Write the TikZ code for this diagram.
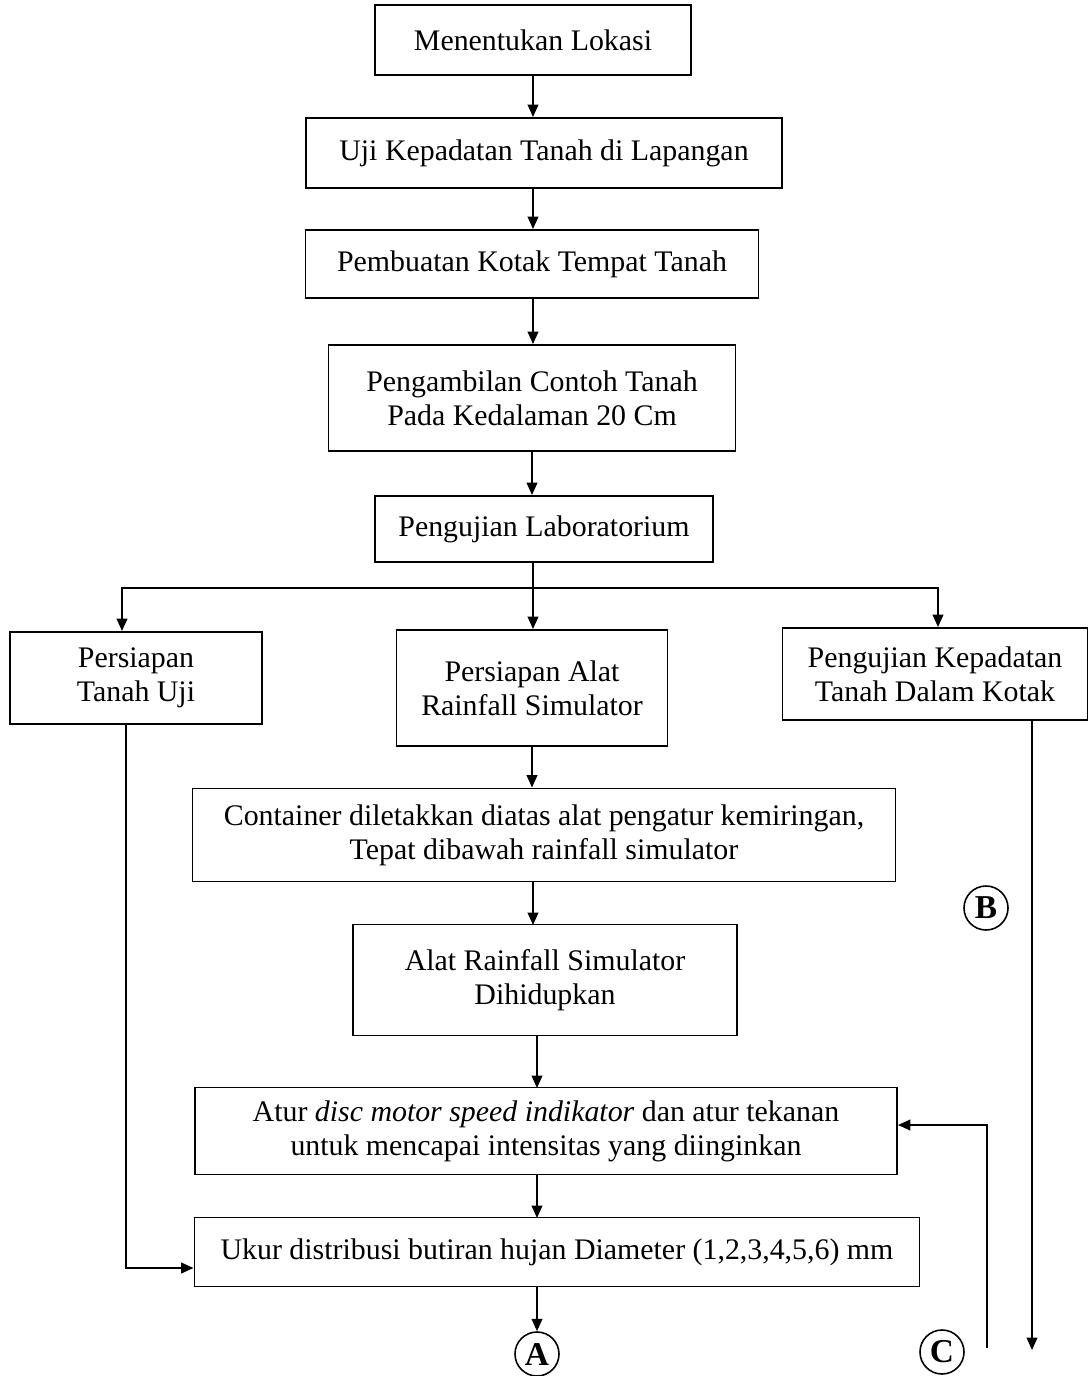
\documentclass[tikz,border=0pt]{standalone}
\usepackage{fontspec}
\setmainfont{Liberation Serif}
\usepackage{tikz}
\usetikzlibrary{arrows.meta}

\newlength\pxu
\setlength\pxu{0.02cm}

\begin{document}
\begin{tikzpicture}[x = {(0.02cm,0cm)},
                    y = {(0cm,-0.02cm)},
                    line width = 1.1pt,
                    font = \fontsize{17pt}{19.4pt}\selectfont]

  \useasboundingbox (0,0) rectangle (1089,1376);

  % STYLES
  \tikzstyle{boxstyle} = [draw, inner sep=0pt, align=center]
  \tikzstyle{markstyle} = [draw, circle, minimum size=44\pxu, inner sep=0pt, line width=0.9pt, font=\fontsize{19pt}{20pt}\selectfont\bfseries]
  \tikzstyle{arrowstyle} = [-{Triangle[length=7pt,width=6pt]}]

  % BOXES
  \node[boxstyle, minimum width=316\pxu, minimum height=70\pxu] (lokasi) at (533, 40) {Menentukan Lokasi};
  \node[boxstyle, minimum width=476\pxu, minimum height=70\pxu] (ujilap) at (544, 153) {Uji Kepadatan Tanah di Lapangan};
  \node[boxstyle, minimum width=453\pxu, minimum height=68\pxu] (kotak) at (532, 264) {Pembuatan Kotak Tempat Tanah};
  \node[boxstyle, minimum width=407\pxu, minimum height=106\pxu] (contoh) at (532, 398) {Pengambilan Contoh Tanah\\Pada Kedalaman 20 Cm};
  \node[boxstyle, minimum width=338\pxu, minimum height=66\pxu] (lab) at (544, 529) {Pengujian Laboratorium};

  \node[boxstyle, minimum width=252\pxu, minimum height=92\pxu] (tanahuji) at (136, 678) {Persiapan\\Tanah Uji};
  \node[boxstyle, minimum width=271\pxu, minimum height=116\pxu] (alat) at (532, 688) {Persiapan Alat\\Rainfall Simulator};
  \node[boxstyle, minimum width=305\pxu, minimum height=92\pxu] (dalamkotak) at (935, 674) {Pengujian Kepadatan\\Tanah Dalam Kotak};

  \node[boxstyle, minimum width=703\pxu, minimum height=93\pxu] (container) at (544, 835) {Container diletakkan diatas alat pengatur kemiringan,\\Tepat dibawah rainfall simulator};
  \node[boxstyle, minimum width=384\pxu, minimum height=111\pxu] (hidup) at (545, 980) {Alat Rainfall Simulator\\Dihidupkan};
  \node[boxstyle, minimum width=702\pxu, minimum height=87\pxu] (atur) at (546, 1131) {Atur \textit{disc motor speed indikator} dan atur tekanan\\untuk mencapai intensitas yang diinginkan};
  \node[boxstyle, minimum width=725\pxu, minimum height=69\pxu] (ukur) at (557, 1252) {Ukur distribusi butiran hujan Diameter (1,2,3,4,5,6) mm};

  % MARKS
  \node[markstyle] (markA) at (537, 1354) {A};
  \node[markstyle] (markB) at (986, 908) {B};
  \node[markstyle] (markC) at (942, 1352) {C};

  % FREE ENDS
  \coordinate (split) at (533, 588);
  \coordinate (cstart) at (987, 1348);
  \coordinate (bend) at (1032, 1350);

  % CONNECTORS
  \draw[arrowstyle] (lokasi.south) -- (lokasi.south |- ujilap.north);
  \draw[arrowstyle] (lokasi.south |- ujilap.south) -- (lokasi.south |- kotak.north);
  \draw[arrowstyle] (lokasi.south |- kotak.south) -- (lokasi.south |- contoh.north);
  \draw[arrowstyle] (contoh.south) -- (contoh.south |- lab.north);
  \draw (split |- lab.south) -- (split);
  \draw[arrowstyle] (split) -| (tanahuji.north -| 122, 0);
  \draw[arrowstyle] (split) -- (split |- alat.north);
  \draw[arrowstyle] (split) -| (dalamkotak.north -| 938, 0);

  \draw[arrowstyle] (alat.south) -- (alat.south |- container.north);
  \draw[arrowstyle] (533, 882) -- (533, 925);
  \draw[arrowstyle] (537, 1036) -- (537, 1088);
  \draw[arrowstyle] (537, 1175) -- (537, 1218);
  \draw[arrowstyle] (537, 1287) -- (markA.north);

  \draw[arrowstyle] (tanahuji.south -| 126, 0) -- (126, 1268) -- (ukur.west |- 0, 1268);
  \draw[arrowstyle] (cstart) -- (987, 1125) -- (atur.east |- 0, 1125);
  \draw[arrowstyle] (dalamkotak.south -| 1032, 0) -- (bend);

\end{tikzpicture}
\end{document}
